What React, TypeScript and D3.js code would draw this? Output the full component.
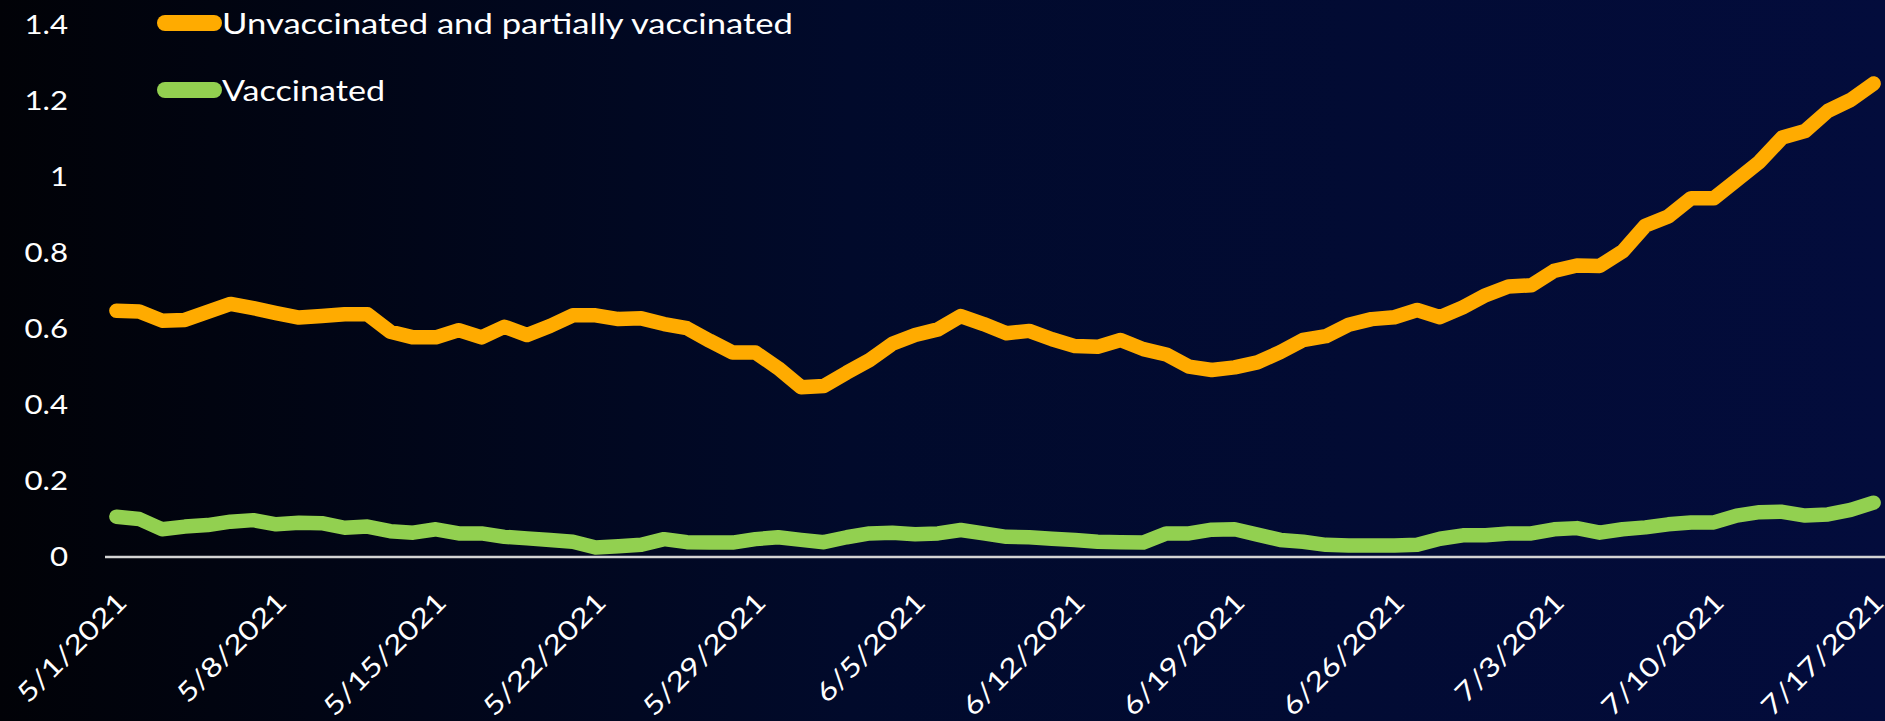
import * as d3 from "d3";
import React, { useEffect, useRef } from "react";

// categories: one point per day, 5/1/2021 .. 7/17/2021
const firstDay = new Date(2021, 4, 1);
const dayAfterLast = new Date(2021, 6, 18);

const xTickLabels = [
  "5/1/2021",
  "5/8/2021",
  "5/15/2021",
  "5/22/2021",
  "5/29/2021",
  "6/5/2021",
  "6/12/2021",
  "6/19/2021",
  "6/26/2021",
  "7/3/2021",
  "7/10/2021",
  "7/17/2021",
];

const yTicks = [0, 0.2, 0.4, 0.6, 0.8, 1, 1.2, 1.4];
const yTickLabels = ["0", "0.2", "0.4", "0.6", "0.8", "1", "1.2", "1.4"];

const seriesNames = ["Unvaccinated and partially vaccinated", "Vaccinated"];

const unvaccinated = [
  0.648, 0.646, 0.622, 0.624, 0.645, 0.666, 0.655, 0.642, 0.63, 0.634,
  0.639, 0.639, 0.593, 0.578, 0.578, 0.597, 0.578, 0.606, 0.584, 0.608,
  0.636, 0.636, 0.626, 0.628, 0.613, 0.602, 0.569, 0.538, 0.538, 0.497,
  0.447, 0.45, 0.485, 0.518, 0.561, 0.584, 0.599, 0.634, 0.613, 0.589,
  0.595, 0.573, 0.555, 0.553, 0.571, 0.547, 0.533, 0.501, 0.492, 0.499,
  0.512, 0.539, 0.571, 0.581, 0.611, 0.626, 0.631, 0.65, 0.631, 0.657,
  0.689, 0.712, 0.715, 0.753, 0.767, 0.766, 0.804, 0.872, 0.896, 0.944,
  0.944, 0.992, 1.04, 1.104, 1.121, 1.174, 1.203, 1.246,
];

const vaccinated = [
  0.106, 0.1, 0.073, 0.08, 0.084, 0.093, 0.097, 0.086, 0.09, 0.089,
  0.077, 0.08, 0.068, 0.064, 0.073, 0.062, 0.062, 0.053, 0.049, 0.045,
  0.04, 0.025, 0.028, 0.032, 0.047, 0.039, 0.038, 0.038, 0.047, 0.052,
  0.045, 0.039, 0.052, 0.062, 0.064, 0.06, 0.062, 0.071, 0.062, 0.053,
  0.052, 0.048, 0.045, 0.04, 0.039, 0.038, 0.062, 0.062, 0.072, 0.073,
  0.059, 0.045, 0.04, 0.032, 0.03, 0.03, 0.03, 0.032, 0.048, 0.057,
  0.057, 0.062, 0.062, 0.073, 0.076, 0.064, 0.073, 0.078, 0.086, 0.091,
  0.091, 0.109, 0.118, 0.119, 0.109, 0.112, 0.124, 0.143,
];

const seriesColors = ["#ffab00", "#92d050"];
const FONT = "Lato, 'Open Sans', sans-serif";

const App: React.FC = () => {
  const ref = useRef<SVGSVGElement>(null);

  useEffect(() => {
    if (!ref.current) return;
    const svg = d3.select(ref.current);
    svg.selectAll("*").remove();

    const width = 1885,
      height = 721;

    const fmt = d3.timeFormat("%-m/%-d/%Y");
    const categories = d3.timeDay.range(firstDay, dayAfterLast).map(fmt);

    const x = d3
      .scalePoint<string>()
      .domain(categories)
      .range([105, width])
      .padding(0.5);
    const y = d3.scaleLinear().domain([0, 1.4]).range([557, 25]);

    // background gradient, black on the left to navy on the right
    const grad = svg
      .append("defs")
      .append("linearGradient")
      .attr("id", "bg")
      .attr("x1", 0)
      .attr("x2", 1)
      .attr("y1", 0)
      .attr("y2", 0);
    grad.append("stop").attr("offset", "0%").attr("stop-color", "#010207");
    grad.append("stop").attr("offset", "45%").attr("stop-color", "#010a2b");
    grad.append("stop").attr("offset", "100%").attr("stop-color", "#030c3c");

    svg
      .append("rect")
      .attr("width", width)
      .attr("height", height)
      .attr("fill", "url(#bg)");

    // y tick labels (wide glyphs, like the source)
    svg
      .append("g")
      .selectAll("text")
      .data(yTicks)
      .join("text")
      .attr("transform", (d) => `translate(68,${y(d)}) scale(1.2,1)`)
      .attr("dy", "0.36em")
      .attr("text-anchor", "end")
      .style("font-family", FONT)
      .style("font-size", "26px")
      .style("fill", "#fff")
      .text((d, i) => yTickLabels[i]);

    // category axis line
    svg
      .append("line")
      .attr("x1", 105)
      .attr("x2", width)
      .attr("y1", y(0))
      .attr("y2", y(0))
      .attr("stroke", "#d4d4d4")
      .attr("stroke-width", 2.5);

    // rotated date labels
    svg
      .append("g")
      .selectAll("text")
      .data(xTickLabels)
      .join("text")
      .attr(
        "transform",
        (d) => `translate(${(x(d) ?? 0) + 12},604) rotate(-45) scale(1.22,1)`
      )
      .attr("text-anchor", "end")
      .style("font-family", FONT)
      .style("font-size", "26.5px")
      .style("fill", "#fff")
      .text((d) => d);

    const line = d3
      .line<number>()
      .x((d, i) => x(categories[i]) ?? 0)
      .y((d) => y(d));

    [unvaccinated, vaccinated].forEach((values, i) => {
      svg
        .append("path")
        .datum(values)
        .attr("d", line)
        .attr("fill", "none")
        .attr("stroke", seriesColors[i])
        .attr("stroke-width", 14.5)
        .attr("stroke-linecap", "round")
        .attr("stroke-linejoin", "round");
    });

    // legend
    const legend = svg
      .append("g")
      .selectAll("g")
      .data(seriesNames)
      .join("g")
      .attr("transform", (d, i) => `translate(0,${i * 67})`);

    legend
      .append("line")
      .attr("x1", 165)
      .attr("x2", 214)
      .attr("y1", 23)
      .attr("y2", 23)
      .attr("stroke", (d, i) => seriesColors[i])
      .attr("stroke-width", 16)
      .attr("stroke-linecap", "round");

    legend
      .append("text")
      .attr("x", 222)
      .attr("y", 34)
      .attr("textLength", (d, i) => (i === 0 ? 571 : 163))
      .attr("lengthAdjust", "spacingAndGlyphs")
      .style("font-family", FONT)
      .style("font-size", "28px")
      .style("fill", "#fff")
      .text((d) => d);
  }, []);

  return (
    <svg
      ref={ref}
      width={1885}
      height={721}
      style={{ position: "absolute", left: 0, top: 0, display: "block" }}
    />
  );
};

export default App;
